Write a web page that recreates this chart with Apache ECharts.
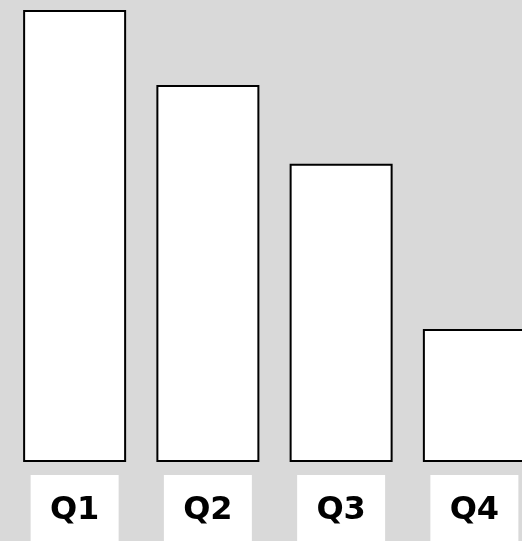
<!DOCTYPE html>
<html><head><meta charset="utf-8">
<script src="https://cdn.jsdelivr.net/npm/echarts@6/dist/echarts.min.js"></script>
<style>html,body{margin:0;padding:0;background:#d9d9d9;}#c{width:522px;height:541px;}</style>
</head><body><div id="c"></div>
<script>
const categories = ['Q1', 'Q2', 'Q3', 'Q4'];
const values = [100, 83.4, 66, 29.4];

const chart = echarts.init(document.getElementById('c'), null, {renderer: 'canvas'});
chart.setOption({
  backgroundColor: '#d9d9d9',
  animation: false,
  grid: {left: 8, top: 10, right: -19, bottom: 79, containLabel: false, outerBoundsMode: 'none'},
  xAxis: {
    type: 'category', data: categories,
    axisLine: {show: false}, axisTick: {show: false},
    axisLabel: {
      margin: 13, color: '#000', fontFamily: 'DejaVu Sans', fontWeight: 'bold', fontSize: 32,
      backgroundColor: '#fff', width: 88, height: 72, lineHeight: 72, align: 'center', verticalAlign: 'top'
    }
  },
  yAxis: {type: 'value', min: 0, max: 100, show: false, splitLine: {show: false}},
  series: [{
    type: 'bar', data: values, barWidth: 103,
    itemStyle: {color: '#fff', borderColor: '#000', borderWidth: 2}
  }]
});
</script></body></html>
